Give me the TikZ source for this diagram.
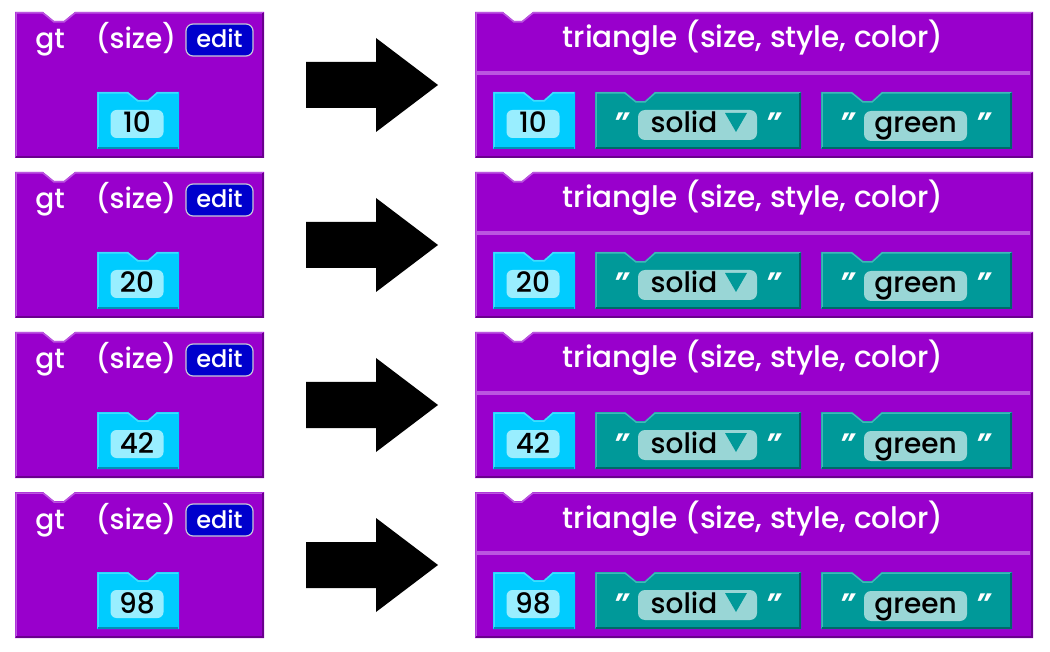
\documentclass[tikz,border=0pt]{standalone}
\usepackage{fontspec}
\setmainfont{Poppins}[UprightFont={* Medium}, ItalicFont={* Medium Italic},
  BoldItalicFont={* Bold Italic}]
\definecolor{blockpurple}{HTML}{9900CC}
\definecolor{purplelight}{HTML}{BB55E0}
\definecolor{purpledark}{HTML}{6A008E}
\definecolor{editblue}{HTML}{0000CC}
\definecolor{editrim}{HTML}{C8C8D8}
\definecolor{numcyan}{HTML}{00CCFF}
\definecolor{cyanlight}{HTML}{40DDFF}
\definecolor{cyandark}{HTML}{0090B8}
\definecolor{pillcyan}{HTML}{99EEFF}
\definecolor{strteal}{HTML}{009999}
\definecolor{teallight}{HTML}{40B8B8}
\definecolor{tealdark}{HTML}{006868}
\definecolor{pillteal}{HTML}{99D6D6}

\begin{document}
\begin{tikzpicture}
    [x=1pt, y=-1pt,
     label/.style={text=white, inner sep=0pt, anchor=base, font=\fontsize{28}{30}\selectfont},
     editbtn/.style={fill=editblue, draw=editrim, line width=1.2pt, rounded corners=7pt,
       minimum width=67pt, minimum height=32pt, inner sep=0pt},
     numpill/.style={fill=pillcyan, rounded corners=6pt, minimum width=53pt,
       minimum height=28pt, inner sep=0pt},
     strpill/.style={fill=pillteal, rounded corners=7pt, minimum height=30pt, inner sep=0pt},
     word/.style={inner sep=0pt, anchor=base, font=\fontsize{28}{30}\selectfont},
     quote/.style={text=white, inner sep=0pt, anchor=base,
       font=\fontsize{28}{30}\selectfont\bfseries\itshape},
     hilite/.style={line width=1.5pt}]
    \useasboundingbox (0,0) rectangle (1050,652);

    \foreach \n [count=\i from 0] in {10,20,42,98} {
    \begin{scope}[shift={(0,160*\i)}]
    	% gt block
    	\fill[blockpurple] (15,12) -- (43,12) -- (54,21) -- (64,21) -- (75,12) -- (264,12)
    		-- (264,158) -- (15,158) -- cycle;
    	\draw[hilite, purplelight] (16,157) -- (16,13) -- (43,13) -- (54,22) -- (64,22)
    		-- (75,13) -- (263,13);
    	\draw[hilite, purpledark] (263,13) -- (263,157) -- (16,157);
    	\node (gt\i) at (50,49) [label] {gt};
    	\node (size\i) at (136,49) [label] {(size)};
    	\node (edit\i) at (219.5,40) [editbtn] {};
    	\node (editlbl\i) at (219.5,48) [label, font=\fontsize{24}{26}\selectfont] {edit};

    	\fill[numcyan] (97,92) -- (128,92) -- (138,100) -- (148,100) -- (157,92) -- (179,92)
    		-- (179,149) -- (97,149) -- cycle;
    	\draw[hilite, cyanlight] (98,148) -- (98,93) -- (128,93) -- (138,101) -- (148,101)
    		-- (157,93) -- (178,93);
    	\draw[hilite, cyandark] (98,148) -- (178,148);
    	\node (numpill\i) at (137,124) [numpill] {};
    	\node (num\i) at (137,133) [word] {\n};

    	% arrow
    	\fill (306,62) -- (376,62) -- (376,38) -- (438,85) -- (376,132) -- (376,108)
    		-- (306,108) -- cycle;

    	% triangle block
    	\fill[blockpurple] (475,12) -- (503,12) -- (514,21) -- (522,21) -- (533,12) -- (1033,12)
    		-- (1033,158) -- (475,158) -- cycle;
    	\draw[hilite, purplelight] (476,157) -- (476,13) -- (503,13) -- (514,22) -- (522,22)
    		-- (533,13) -- (1032,13);
    	\draw[hilite, purpledark] (1032,13) -- (1032,157) -- (476,157);
    	\fill[purplelight] (477,71) rectangle (1030,75);
    	\node (tri\i) at (753,48) [label, font=\fontsize{29.5}{31}\selectfont]
    		{triangle (size, style, color)};

    	\fill[numcyan] (493,92) -- (524,92) -- (534,100) -- (544,100) -- (553,92) -- (575,92)
    		-- (575,149) -- (493,149) -- cycle;
    	\draw[hilite, cyanlight] (494,148) -- (494,93) -- (524,93) -- (534,101) -- (544,101)
    		-- (553,93) -- (574,93);
    	\draw[hilite, cyandark] (494,148) -- (574,148);
    	\node (argpill\i) at (533,124) [numpill] {};
    	\node (arg\i) at (533,133) [word] {\n};

    	\fill[strteal] (595,92) -- (625,92) -- (636,101) -- (645,101) -- (655,92) -- (801,92)
    		-- (801,149) -- (595,149) -- cycle;
    	\draw[hilite, teallight] (596,148) -- (596,93) -- (625,93) -- (636,102) -- (645,102)
    		-- (655,93) -- (800,93);
    	\draw[hilite, tealdark] (596,148) -- (800,148) -- (800,93);
    	\node (stylepill\i) at (697.5,125) [strpill, minimum width=119pt] {};
    	\node (solid\i) at (684,133) [word] {solid};
    	\fill[strteal] (725,113) -- (747,113) -- (736,132) -- cycle;
    	\node (lq\i) at (621,133) [quote] {"};
    	\node (rq\i) at (773,133) [quote] {"};

    	\fill[strteal] (821,92) -- (852,92) -- (863,101) -- (872,101) -- (882,92) -- (1012,92)
    		-- (1012,149) -- (821,149) -- cycle;
    	\draw[hilite, teallight] (822,148) -- (822,93) -- (852,93) -- (863,102) -- (872,102)
    		-- (882,93) -- (1011,93);
    	\draw[hilite, tealdark] (822,148) -- (1011,148) -- (1011,93);
    	\node (colorpill\i) at (915.5,126) [strpill, minimum width=103pt] {};
    	\node (green\i) at (915.5,133) [word] {green};
    	\node (lq2\i) at (847,133) [quote] {"};
    	\node (rq2\i) at (983,133) [quote] {"};
    \end{scope}
    }
\end{tikzpicture}
\end{document}
